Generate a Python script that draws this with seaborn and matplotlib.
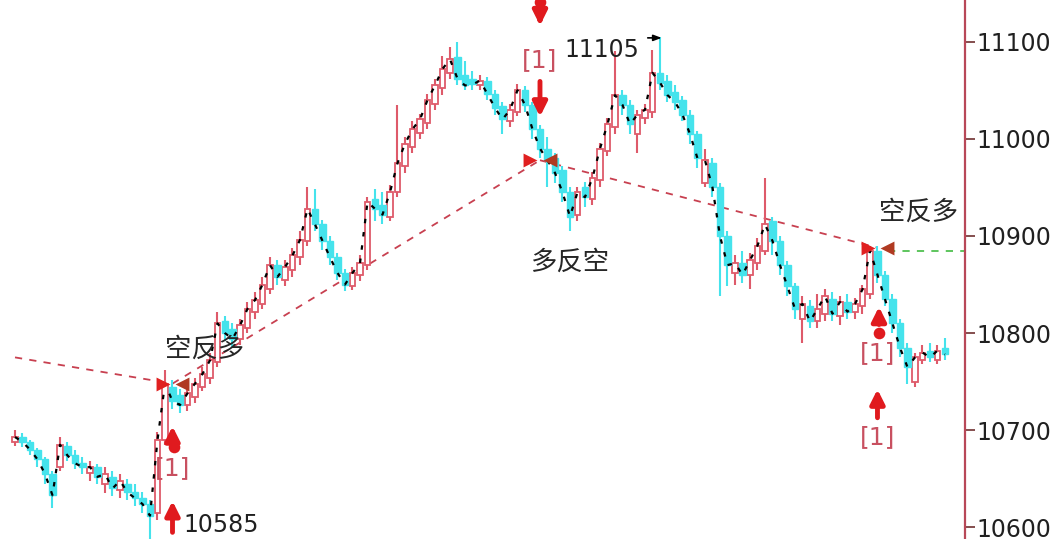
import numpy as np
import pandas as pd
import matplotlib
matplotlib.use("Agg")
import matplotlib.pyplot as plt
import seaborn as sns

sns.set_theme(style="white")
plt.rcParams['font.family'] = ['DejaVu Sans', 'Noto Sans CJK SC']

# candle data
opens = [10688, 10693, 10688, 10680, 10670, 10655, 10662, 10684, 10674, 10666,
         10656, 10662, 10645, 10652, 10638, 10645, 10636, 10630, 10624, 10615,
         10690, 10745, 10736, 10726, 10734, 10745, 10754, 10770, 10812, 10804,
         10794, 10805, 10822, 10830, 10845, 10870, 10855, 10865, 10878, 10895,
         10928, 10912, 10895, 10878, 10862, 10848, 10860, 10870, 10938, 10932,
         10920, 10945, 10972, 10992, 11006, 11016, 11036, 11052, 11068, 11084,
         11066, 11062, 11055, 11060, 11046, 11034, 11018, 11028, 11050, 11035,
         11010, 10990, 10980, 10968, 10945, 10922, 10950, 10938, 10958, 10988,
         11012, 11045, 11035, 11005, 11022, 11028, 11068, 11060, 11048, 11040,
         11025, 11005, 10955, 10975, 10950, 10900, 10862, 10872, 10860, 10872,
         10885, 10915, 10895, 10870, 10848, 10815, 10828, 10812, 10820, 10835,
         10818, 10832, 10822, 10828, 10840, 10885, 10860, 10835, 10810, 10785,
         10750, 10772, 10782, 10772, 10785]
closes = [10693, 10688, 10680, 10670, 10655, 10633, 10685, 10674, 10666, 10662,
          10662, 10652, 10655, 10640, 10648, 10636, 10630, 10624, 10612, 10690,
          10748, 10730, 10726, 10738, 10748, 10758, 10772, 10810, 10800, 10794,
          10808, 10825, 10834, 10850, 10870, 10858, 10868, 10880, 10896, 10928,
          10912, 10895, 10878, 10862, 10850, 10862, 10872, 10935, 10928, 10922,
          10945, 10975, 10995, 11010, 11020, 11040, 11055, 11072, 11082, 11062,
          11055, 11056, 11060, 11046, 11032, 11020, 11030, 11050, 11035, 11010,
          10990, 10978, 10965, 10945, 10920, 10945, 10940, 10960, 10990, 11015,
          11045, 11035, 11015, 11025, 11030, 11068, 11058, 11045, 11038, 11025,
          11005, 10980, 10978, 10950, 10900, 10870, 10872, 10860, 10875, 10890,
          10912, 10895, 10870, 10848, 10825, 10830, 10812, 10825, 10838, 10820,
          10832, 10822, 10830, 10845, 10885, 10860, 10835, 10810, 10785, 10765,
          10775, 10780, 10775, 10782, 10778]
highs = [10700, 10697, 10690, 10682, 10672, 10658, 10693, 10688, 10680, 10672,
         10668, 10665, 10662, 10658, 10655, 10650, 10645, 10636, 10628, 10698,
         10762, 10752, 10742, 10744, 10754, 10765, 10780, 10822, 10818, 10810,
         10815, 10832, 10842, 10858, 10878, 10875, 10875, 10888, 10905, 10950,
         10948, 10916, 10900, 10882, 10866, 10868, 10880, 10940, 10948, 10945,
         10952, 11035, 11002, 11018, 11026, 11046, 11062, 11085, 11095, 11100,
         11080, 11070, 11066, 11064, 11050, 11038, 11036, 11056, 11054, 11038,
         11014, 11002, 10985, 10972, 10950, 10950, 10956, 10966, 10996, 11022,
         11090, 11050, 11040, 11030, 11036, 11092, 11105, 11066, 11055, 11044,
         11030, 11008, 10990, 10980, 10955, 10905, 10880, 10885, 10882, 10898,
         10960, 10920, 10900, 10874, 10852, 10838, 10834, 10840, 10845, 10842,
         10838, 10840, 10836, 10850, 10890, 10890, 10864, 10840, 10815, 10790,
         10780, 10788, 10790, 10788, 10795]
lows = [10684, 10683, 10674, 10662, 10645, 10620, 10658, 10668, 10660, 10655,
        10648, 10645, 10635, 10632, 10630, 10628, 10622, 10615, 10585, 10608,
        10685, 10722, 10718, 10720, 10728, 10740, 10748, 10765, 10792, 10786,
        10788, 10800, 10815, 10825, 10840, 10850, 10848, 10858, 10870, 10890,
        10905, 10886, 10870, 10855, 10843, 10844, 10854, 10865, 10915, 10912,
        10915, 10940, 10965, 10985, 11000, 11010, 11030, 11045, 11062, 11055,
        11050, 11050, 11050, 11040, 11025, 11005, 11012, 11024, 11028, 11000,
        10980, 10950, 10955, 10935, 10905, 10915, 10930, 10932, 10950, 10982,
        11005, 11025, 11005, 10985, 11015, 11022, 11050, 11038, 11030, 11018,
        10995, 10970, 10950, 10940, 10838, 10848, 10850, 10852, 10845, 10865,
        10880, 10880, 10860, 10838, 10815, 10790, 10805, 10805, 10812, 10812,
        10808, 10815, 10815, 10820, 10835, 10852, 10828, 10800, 10775, 10748,
        10745, 10768, 10770, 10768, 10772]

# zigzag pivots (signal candles) and labels
pivot_idx = [0, 21, 70, 115]
pivot_price = [10775, 10748, 10978, 10888]
green_level = 10885
signal_labels = ["空反多", "多反空", "空反多"]
yticks = [10600, 10700, 10800, 10900, 11000, 11100]

df = pd.DataFrame({"idx": np.arange(len(opens)), "open": opens, "high": highs,
                   "low": lows, "close": closes})
up = df["close"] >= df["open"]

RED = "#DE5A6A"
CYAN = "#45E3EC"
MARK = "#E01A1E"

fig = plt.figure(figsize=(10.56, 5.39), dpi=100)
ax = fig.add_axes([0, 0, 965 / 1056, 1])
ax.set_xlim(-2, 126.67)
ax.set_ylim(10588, 11143)

# zigzag lines
for k in range(len(pivot_idx) - 1):
    ax.plot(pivot_idx[k:k + 2], pivot_price[k:k + 2], color="#C84050",
            lw=1.3, ls=(0, (4, 4)), zorder=1)
ax.plot([pivot_idx[-1] + 1.4, 126.67], [green_level, green_level],
        color="#50C050", lw=1.3, ls=(0, (4, 4)), zorder=1)

# candles
ax.vlines(df["idx"], df["low"], df["high"],
          colors=np.where(up, RED, CYAN), lw=1.5, zorder=2)
body_h = (df["close"] - df["open"]).abs().clip(lower=1.5)
body_b = df[["open", "close"]].min(axis=1)
ax.bar(df["idx"][up], body_h[up], bottom=body_b[up], width=0.78,
       color="white", edgecolor=RED, lw=1.3, zorder=3)
ax.bar(df["idx"][~up], body_h[~up], bottom=body_b[~up], width=0.82,
       color=CYAN, edgecolor=CYAN, lw=1.0, zorder=3)

# close line (black short dashes)
sns.lineplot(data=df, x="idx", y="close", ax=ax, color="black", lw=1.6,
             linestyle=(0, (2, 4)), zorder=4)

# facing triangles at signal candles
for i, p in zip(pivot_idx[1:], pivot_price[1:]):
    ax.scatter([i - 1.3], [p], marker=">", s=100, color="#E02020", zorder=5, lw=0)
    ax.scatter([i + 1.3], [p], marker="<", s=100, color="#B03A22", zorder=5, lw=0)

cjk = ["Noto Sans CJK SC", "DejaVu Sans"]
ax.text(20, 10783, signal_labels[0], fontsize=19, family=cjk, va="center", zorder=6)
ax.text(68.7, 10873, signal_labels[1], fontsize=19, family=cjk, va="center", zorder=6)
ax.text(115.2, 10924, signal_labels[2], fontsize=19, family=cjk, va="center", zorder=6)

# high / low marks
ax.text(73.3, 11092, "11105", fontsize=17, va="center", color="#202020", zorder=6)
ax.annotate("", xy=(86.6, 11104), xytext=(84, 11104),
            arrowprops=dict(arrowstyle="-|>,head_width=0.15,head_length=0.4",
                            color="black", lw=1.2), zorder=6)
ax.text(22.4, 10602, "10585", fontsize=17, va="center", color="#202020", zorder=6)


def big_arrow(i, tail, tip):
    ax.annotate("", xy=(i, tip), xytext=(i, tail),
                arrowprops=dict(arrowstyle="-|>,head_width=0.35,head_length=0.7",
                                color=MARK, lw=3.5), zorder=6)


def bracket(i, p):
    ax.text(i, p, "[1]", fontsize=18, color="#C85060", ha="center",
            va="center", zorder=6)


# left signal
big_arrow(21, 10690, 10707)
ax.scatter([21.2], [10683], s=70, color=MARK, zorder=6, lw=0)
bracket(21, 10661)
big_arrow(21, 10592, 10630)
# top signal
ax.scatter([70], [11141], s=70, color=MARK, zorder=6, lw=0)
big_arrow(70, 11130, 11114)
bracket(70, 11081)
big_arrow(70, 11062, 11020)
# right signal
big_arrow(115.2, 10806, 10830)
ax.scatter([115.2], [10800], s=70, color=MARK, zorder=6, lw=0)
bracket(115, 10779)
big_arrow(115, 10710, 10745)
bracket(115, 10693)

# axis styling
for s in ["left", "top", "bottom"]:
    ax.spines[s].set_visible(False)
ax.spines["right"].set_color("#B84858")
ax.spines["right"].set_linewidth(1.6)
ax.set_xticks([])
ax.yaxis.tick_right()
ax.set_yticks(yticks)
ax.tick_params(axis="y", direction="out", length=7, width=1.2, color="#703030",
               labelsize=17, labelcolor="#202020", pad=1, right=True)
ax.set_xlabel("")
ax.set_ylabel("")
ax.grid(False)
ax.set_facecolor("white")

fig.savefig("out.png", dpi=100, facecolor="white")
